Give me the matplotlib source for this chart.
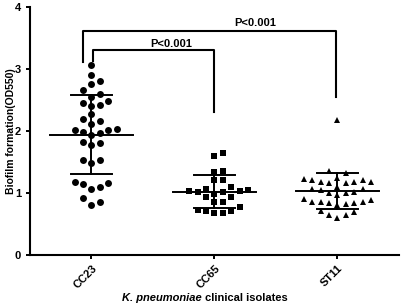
import numpy as np
import matplotlib.pyplot as plt

plt.rcParams['font.family'] = ['Liberation Sans', 'DejaVu Sans']
plt.rcParams['font.weight'] = 'bold'

groups = ['CC23', 'CC65', 'ST11']
cc23 = [3.06, 2.90, 2.80, 2.76, 2.66, 2.60, 2.55, 2.46, 2.48, 2.40, 2.42,
        2.27, 2.16, 2.19, 2.12, 2.02, 1.98, 1.94, 1.97, 2.01, 2.04,
        1.80, 1.77, 1.82, 1.53, 1.48, 1.53, 1.16, 1.10, 1.06, 1.15, 1.18,
        0.92, 0.81, 0.85]
cc65 = [1.65, 1.59, 1.34, 1.35, 1.21, 1.21, 1.06, 1.04, 1.02, 1.02, 0.99,
        1.03, 1.05, 1.09, 0.93, 0.93, 0.86, 0.86, 0.73, 0.71, 0.68, 0.68,
        0.71, 0.78]
st11 = [2.18, 1.36, 1.33, 1.16, 1.16, 1.22, 1.21, 1.18, 1.18, 1.21, 1.25,
        1.17, 1.07, 1.05, 1.07, 1.10, 1.00, 1.00, 0.97, 1.02, 0.86, 0.84,
        0.82, 0.89, 0.91, 0.81, 0.84, 0.86, 0.86, 0.71, 0.645, 0.59, 0.645,
        0.70]
markers = ['o', 's', '^']
msizes = [5.0, 4.3, 4.6]
p_text = 'P<0.001'


def swarm(vals, dx=0.068, thr=0.125):
    vals = np.asarray(vals)
    offs = np.zeros(len(vals))
    placed = {}
    seq = [0]
    for n in range(1, 12):
        seq += [n, -n]
    for i in np.argsort(vals, kind='stable'):
        for k in seq:
            if all(abs(vals[i] - y) >= thr for y in placed.get(k, [])):
                placed.setdefault(k, []).append(vals[i])
                offs[i] = k * dx
                break
    return offs


fig = plt.figure(figsize=(4.03, 3.06), dpi=100)
ax = fig.add_axes([0.0744, 0.1667, 0.9156, 0.810])

for i, (vals, m, ms) in enumerate(zip([cc23, cc65, st11], markers, msizes)):
    x = i + 1
    vals = np.asarray(vals)
    ax.plot(x + swarm(vals), vals, m, color='black', ms=ms, mec='black',
            mew=0, zorder=3, linestyle='none')
    mean = vals.mean()
    sd = vals.std(ddof=1)
    ax.plot([x - 0.34, x + 0.34], [mean, mean], color='black', lw=1.4, zorder=4)
    ax.plot([x, x], [mean - sd, mean + sd], color='black', lw=1.4, zorder=4)
    for yy in (mean - sd, mean + sd):
        ax.plot([x - 0.17, x + 0.17], [yy, yy], color='black', lw=1.4, zorder=4)

# significance brackets
ax.plot([0.93, 0.93, 2.99, 2.99], [3.12, 3.61, 3.61, 2.55], color='black', lw=1.5)
ax.plot([1.01, 1.01, 2.0, 2.0], [3.13, 3.31, 3.31, 2.31], color='black', lw=1.5)
ax.text(1.65, 3.40, p_text, ha='center', va='center', fontsize=8, fontweight='bold')
ax.text(2.33, 3.74, p_text, ha='center', va='center', fontsize=8, fontweight='bold')

ax.set_xlim(0.5, 3.5)
ax.set_ylim(0, 4)
ax.set_yticks([0, 1, 2, 3, 4])
ax.set_xticks([1, 2, 3])
ax.set_xticklabels(groups, rotation=45, ha='right', rotation_mode='anchor',
                   fontsize=8, fontweight='bold')
ax.tick_params(axis='y', labelsize=8, width=1.4, length=3, direction='out')
ax.tick_params(axis='x', width=1.4, length=3, direction='out', pad=3)
for s in ['top', 'right']:
    ax.spines[s].set_visible(False)
for s in ['left', 'bottom']:
    ax.spines[s].set_linewidth(1.5)

ax.set_ylabel('Biofilm formation(OD550)', fontsize=7.5, fontweight='bold')
ax.yaxis.set_label_coords(-0.038, 0.5)

t1 = fig.text(122 / 403, 0.026, 'K. pneumoniae', fontsize=8, fontweight='bold',
              fontstyle='italic', ha='left', va='center')
ax.annotate(' clinical isolates', xy=(1, 0.5), xycoords=t1, ha='left',
            va='center', fontsize=8, fontweight='bold')

fig.savefig('out.png', dpi=100)
